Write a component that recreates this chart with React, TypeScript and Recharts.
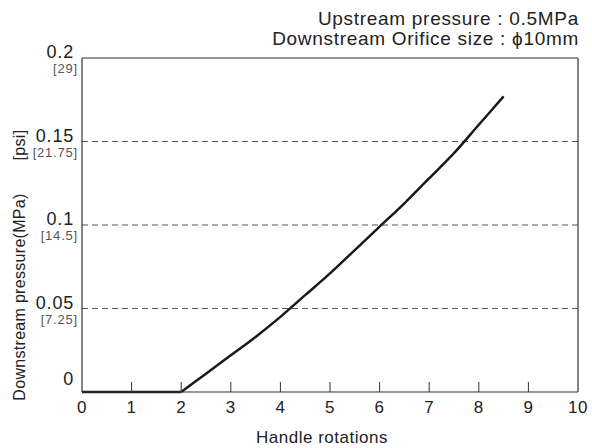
import { Customized, Line, LineChart, ReferenceLine, XAxis, YAxis } from "recharts";

const rotations = [0, 1, 2, 2.5, 3, 3.5, 4, 4.5, 5, 5.5, 6, 6.5, 7, 7.5, 8, 8.5];
const pressureMPa = [0, 0, 0, 0.011, 0.022, 0.033, 0.045, 0.058, 0.071, 0.085, 0.099, 0.113, 0.128, 0.143, 0.16, 0.177];
const crackingRotation = 2;

const xTicks = [0, 1, 2, 3, 4, 5, 6, 7, 8, 9, 10];
const yTicks = [0, 0.05, 0.1, 0.15, 0.2];
const yTickLabels = ["0", "0.05", "0.1", "0.15", "0.2"];
const psiLabels = ["", "[7.25]", "[14.5]", "[21.75]", "[29]"];
const gridValues = [0.05, 0.1, 0.15];

// flat part and rising part as two series so the curve keeps its corner at 2
const data = rotations.map((r, i) => ({
  r,
  flat: r <= crackingRotation ? pressureMPa[i] : null,
  rise: r >= crackingRotation ? pressureMPa[i] : null,
}));

const FONT = "'Liberation Sans', Arial, sans-serif";
const INK = "#222";

function XTick({ x, y, payload }: any) {
  const v = payload.value;
  return (
    <g>
      {v > 0 && v < 10 && <line x1={x} x2={x} y1={y - 10} y2={y} stroke="#333" strokeWidth={1} />}
      <text x={x} y={y + 21} textAnchor="middle" fontSize={17} letterSpacing={0.5} fill={INK} fontFamily={FONT}>
        {v}
      </text>
    </g>
  );
}

function YTick({ x, y, payload }: any) {
  const i = yTicks.indexOf(payload.value);
  if (i === 0) {
    return (
      <text x={x - 8} y={y - 7} textAnchor="end" fontSize={18} letterSpacing={0.8} fill={INK} fontFamily={FONT}>
        0
      </text>
    );
  }
  return (
    <g>
      <text x={x - 8} y={y} textAnchor="end" fontSize={18} letterSpacing={0.8} fill={INK} fontFamily={FONT}>
        {yTickLabels[i]}
      </text>
      <text x={x - 4} y={y + 15} textAnchor="end" fontSize={13} letterSpacing={0.8} fill="#555" fontFamily={FONT}>
        {psiLabels[i]}
      </text>
    </g>
  );
}

function Titles() {
  return (
    <g fontFamily={FONT} fill={INK}>
      <text x={579} y={25} textAnchor="end" fontSize={19} letterSpacing={0.7}>
        Upstream pressure : 0.5MPa
      </text>
      <text x={579} y={45} textAnchor="end" fontSize={19} letterSpacing={0.7}>
        Downstream Orifice size : ϕ10mm
      </text>
      <text x={322} y={443} textAnchor="middle" fontSize={17} letterSpacing={0.5}>
        Handle rotations
      </text>
      <text transform="translate(25,297) rotate(-90)" textAnchor="middle" fontSize={16} letterSpacing={0.3}>
        Downstream pressure(MPa)
      </text>
      <text transform="translate(25,145) rotate(-90)" textAnchor="middle" fontSize={16} letterSpacing={0.3}>
        [psi]
      </text>
    </g>
  );
}

export default function App() {
  return (
    <div style={{ position: "absolute", left: 0, top: 0, background: "#fff" }}>
      <LineChart width={592} height={448} data={data} margin={{ top: 58, right: 14, left: 22, bottom: 0 }}>
        <XAxis
          dataKey="r"
          type="number"
          domain={[0, 10]}
          ticks={xTicks}
          height={56}
          tickSize={0}
          tickMargin={0}
          tick={<XTick />}
          axisLine={{ stroke: "#333", strokeWidth: 1.2 }}
          interval={0}
        />
        <YAxis
          type="number"
          domain={[0, 0.2]}
          ticks={yTicks}
          width={60}
          tickSize={0}
          tickMargin={0}
          tick={<YTick />}
          axisLine={{ stroke: "#333", strokeWidth: 1.2 }}
          interval={0}
        />
        {gridValues.map((g) => (
          <ReferenceLine key={g} y={g} stroke="#555" strokeDasharray="6 4" strokeWidth={1} />
        ))}
        <ReferenceLine y={0.2} stroke="#333" strokeWidth={1.2} />
        <ReferenceLine x={10} stroke="#333" strokeWidth={1.2} />
        <Line dataKey="flat" type="linear" stroke="#1a1a1a" strokeWidth={2.5} dot={false} isAnimationActive={false} />
        <Line dataKey="rise" type="monotone" stroke="#1a1a1a" strokeWidth={2.5} dot={false} isAnimationActive={false} />
        <Customized component={Titles} />
      </LineChart>
    </div>
  );
}
